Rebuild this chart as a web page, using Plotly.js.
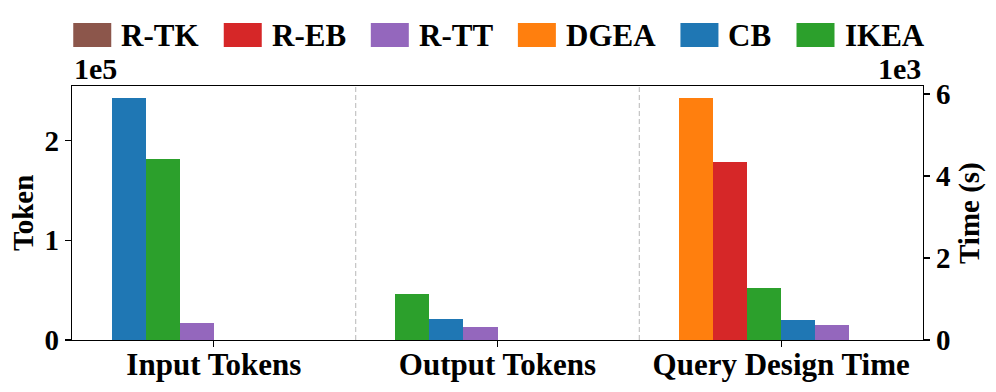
<!DOCTYPE html>
<html>
<head>
<meta charset="utf-8">
<script src="https://cdn.plot.ly/plotly-3.0.1.min.js"></script>
<style>html,body{margin:0;padding:0;background:#fff;}#chart{width:996px;height:392px;}</style>
</head>
<body>
<div id="chart"></div>
<script>
// ---- data ----
const categories = ['Input Tokens', 'Output Tokens', 'Query Design Time'];
const methods = ['R-TK', 'R-EB', 'R-TT', 'DGEA', 'CB', 'IKEA'];
const colors = ['#8c564b', '#d62728', '#9467bd', '#ff7f0e', '#1f77b4', '#2ca02c'];
// values per method, one per category (null = not reported)
const rTK  = [null, null, null];
const rEB  = [null, null, 4350];
const rTT  = [16700, 12700, 358];
const dGEA = [null, null, 5895];
const cB   = [242400, 20800, 495];
const iKEA = [181500, 46100, 1260];
const leftTickVals = [0, 100000, 200000];
const leftTickText = ['0', '1', '2'];
const rightTickVals = [0, 2000, 4000, 6000];
const rightTickText = ['0', '2', '4', '6'];
const leftTitle = 'Token';
const rightTitle = 'Time (s)';

const values = [rTK, rEB, rTT, dGEA, cB, iKEA];
const timeGroup = 2; // category index drawn on the right (time) axis

// ---- layout constants ----
const W = 996, H = 392;
const M = {l: 72, r: 73, t: 86, b: 52};
const PW = W - M.l - M.r, PH = H - M.t - M.b;
const barW = 0.12;
const FONT = 'Liberation Serif';
const fnt = (s) => ({family: FONT, size: s, color: '#000', weight: 700});

// slot of each bar: in each group bars sorted by value descending
const slot = methods.map(() => categories.map(() => null));
categories.forEach((c, g) => {
  const present = methods.map((m, i) => i).filter(i => values[i][g] != null);
  present.sort((a, b) => values[b][g] - values[a][g]);
  present.forEach((i, k) => { slot[i][g] = k; });
});

const traces = [];
methods.forEach((m, i) => {
  ['tok', 'time'].forEach(kind => {
    const xs = [], ys = [];
    categories.forEach((c, g) => {
      const isTime = g === timeGroup;
      if ((kind === 'time') !== isTime) return;
      if (values[i][g] == null) return;
      xs.push(g + (slot[i][g] - 2.5) * barW);
      ys.push(values[i][g]);
    });
    traces.push({
      type: 'bar', name: m, x: xs, y: ys, width: barW,
      yaxis: kind === 'time' ? 'y2' : 'y',
      marker: {color: colors[i], line: {width: 0}},
      showlegend: false, hoverinfo: 'skip'
    });
  });
});

// ---- custom legend (matplotlib style swatches) ----
const px2x = (p) => (p - M.l) / PW;
const py2y = (p) => 1 - (p - M.t) / PH;
const ctx = document.createElement('canvas').getContext('2d');
const legFont = 31;
ctx.font = 'bold ' + legFont + 'px "' + FONT + '"';
const swW = 38, swH = 24, txtOff = 46, colGap = 27;
const widths = methods.map(m => txtOff + ctx.measureText(m).width);
const total = widths.reduce((a, b) => a + b, 0) + colGap * (methods.length - 1);
let cx = (M.l + (W - M.r)) / 2 - total / 2;
const legY = 35;
const shapes = [], annotations = [];
methods.forEach((m, i) => {
  shapes.push({type: 'rect', xref: 'paper', yref: 'paper',
    x0: px2x(cx), x1: px2x(cx + swW), y0: py2y(legY - swH / 2), y1: py2y(legY + swH / 2),
    fillcolor: colors[i], line: {width: 0}});
  annotations.push({xref: 'paper', yref: 'paper', x: px2x(cx + txtOff), y: py2y(legY + 1),
    xanchor: 'left', yanchor: 'middle', text: m, showarrow: false, font: fnt(legFont)});
  cx += widths[i] + colGap;
});

// separators between groups
for (let g = 0; g < categories.length - 1; g++) {
  shapes.push({type: 'line', xref: 'x', yref: 'paper', x0: g + 0.5, x1: g + 0.5, y0: 0, y1: 1,
    line: {color: '#c4c4c4', width: 1.2, dash: '5px,3px'}, layer: 'below'});
}
// offset labels
annotations.push({xref: 'paper', yref: 'paper', x: 0, y: 1, xanchor: 'left', yanchor: 'bottom',
  yshift: -1, text: '1e5', showarrow: false, font: fnt(30)});
annotations.push({xref: 'paper', yref: 'paper', x: 1, y: 1, xanchor: 'right', yanchor: 'bottom',
  yshift: -1, text: '1e3', showarrow: false, font: fnt(30)});
// axis titles
annotations.push({xref: 'paper', yref: 'paper', x: px2x(23), y: 0.5, xanchor: 'center', yanchor: 'middle',
  textangle: -90, text: leftTitle, showarrow: false, font: fnt(29)});
annotations.push({xref: 'paper', yref: 'paper', x: px2x(969), y: 0.5, xanchor: 'center', yanchor: 'middle',
  textangle: -90, text: rightTitle, showarrow: false, font: fnt(29)});

const layout = {
  width: W, height: H,
  margin: M,
  paper_bgcolor: '#fff', plot_bgcolor: '#fff',
  barmode: 'overlay',
  bargap: 0,
  showlegend: false,
  font: fnt(29),
  xaxis: {
    range: [-0.5, categories.length - 0.5],
    tickvals: categories.map((c, g) => g), ticktext: categories,
    ticks: 'outside', ticklen: 6, tickwidth: 1.2, tickcolor: '#000',
    showline: true, linecolor: '#000', linewidth: 1.2, mirror: true,
    showgrid: false, zeroline: false, tickfont: fnt(31), ticklabelstandoff: -9
  },
  yaxis: {
    range: [0, 254800],
    tickvals: leftTickVals, ticktext: leftTickText,
    ticks: 'outside', ticklen: 6, tickwidth: 1.2, tickcolor: '#000',
    showline: true, linecolor: '#000', linewidth: 1.2,
    showgrid: false, zeroline: false, tickfont: fnt(29)
  },
  yaxis2: {
    overlaying: 'y', side: 'right',
    range: [0, 6195],
    tickvals: rightTickVals, ticktext: rightTickText,
    ticks: 'outside', ticklen: 6, tickwidth: 1.2, tickcolor: '#000',
    showline: true, linecolor: '#000', linewidth: 1.2,
    showgrid: false, zeroline: false, tickfont: fnt(29)
  },
  shapes: shapes,
  annotations: annotations
};

Plotly.newPlot('chart', traces, layout, {displayModeBar: false, staticPlot: true});
</script>
</body>
</html>
